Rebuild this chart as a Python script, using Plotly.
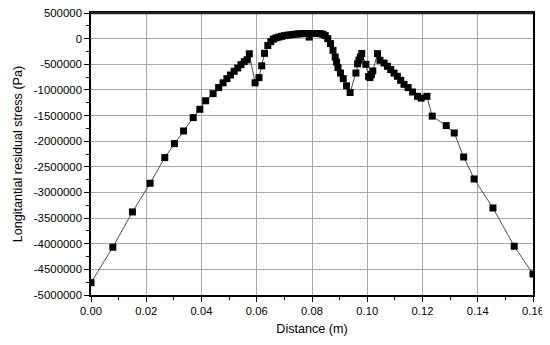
import plotly.graph_objects as go

distance_m = [
    0.0000, 0.0079, 0.0150, 0.0214, 0.0267, 0.0302, 0.0335, 0.0370, 0.0394, 0.0415,
    0.0442, 0.0462, 0.0478, 0.0492, 0.0505, 0.0518, 0.0531, 0.0543, 0.0555, 0.0565,
    0.0573, 0.0594, 0.0608, 0.0618, 0.0628, 0.0640, 0.0651,
    0.0660, 0.0670, 0.0680, 0.0690, 0.0700, 0.0710, 0.0720, 0.0730, 0.0740, 0.0750,
    0.0760, 0.0770, 0.0780, 0.0790, 0.0800, 0.0810, 0.0820, 0.0830, 0.0840, 0.0848,
    0.0857, 0.0867, 0.0876, 0.0884, 0.0889, 0.0894, 0.0903, 0.0913, 0.0925, 0.0938,
    0.0959, 0.0965, 0.0970, 0.0975, 0.0980,
    0.0995, 0.1005, 0.1010, 0.1015, 0.1020, 0.1037,
    0.1046, 0.1061, 0.1073, 0.1085, 0.1097, 0.1109, 0.1121, 0.1133, 0.1148, 0.1164,
    0.1182, 0.1195, 0.1216, 0.1235, 0.1286, 0.1315, 0.1349, 0.1387, 0.1455, 0.1532,
    0.1600,
]

stress_pa = [
    -4760000, -4068000, -3380000, -2821000, -2320000, -2047000, -1801000, -1540000, -1378000, -1212000,
    -1072000, -955000, -862000, -780000, -710000, -637000, -573000, -507000, -448000, -413000,
    -296000, -862000, -760000, -530000, -287000, -134000, -58000,
    -10000, 15000, 30000, 45000, 58000, 66000, 72000, 80000, 86000, 92000,
    97000, 98000, 100000, 31000, 100000, 100000, 98000, 97000, 85000, 60000,
    0, -97000, -228000, -359000, -456000, -565000, -671000, -780000, -920000, -1051000,
    -671000, -491000, -420000, -360000, -290000,
    -501000, -740000, -760000, -700000, -630000, -292000,
    -423000, -476000, -540000, -604000, -671000, -735000, -813000, -891000, -955000, -1041000,
    -1125000, -1160000, -1125000, -1511000, -1696000, -1840000, -2308000, -2737000, -3302000, -4049000,
    -4590000,
]

y_tick_vals = [500000, 0, -500000, -1000000, -1500000, -2000000, -2500000, -3000000,
               -3500000, -4000000, -4500000, -5000000]
y_tick_text = ["500000", "0", "-500000", "-1000000", "-1500000", "-2000000", "-2500000",
               "-3000000", "-3500000", "-4000000", "-4500000", "-5000000"]
x_tick_vals = [0.00, 0.02, 0.04, 0.06, 0.08, 0.10, 0.12, 0.14, 0.16]

fig = go.Figure()
fig.add_trace(go.Scatter(
    x=distance_m, y=stress_pa, mode="lines+markers",
    line=dict(color="#4a4a5a", width=1),
    marker=dict(symbol="square", size=7, color="black"),
    showlegend=False, cliponaxis=True,
))

font = "Liberation Sans, Arial, sans-serif"
# page body has an 8px default margin; figure sized so it ends at the window edge
fig.update_layout(
    width=542, height=337,
    margin=dict(l=83, r=17, t=5, b=50, autoexpand=False),
    paper_bgcolor="white", plot_bgcolor="white",
    font=dict(family=font, size=11.4, color="black"),
)
# top frame edge of the plot area
fig.add_shape(type="line", xref="paper", yref="paper", x0=0, x1=1, y0=1, y1=1,
              line=dict(color="#222222", width=2.5), layer="above")
fig.update_xaxes(
    range=[0, 0.16], tickvals=x_tick_vals, tickformat=".2f", automargin=False,
    ticklabeloverflow="allow",
    showgrid=True, gridcolor="#a8a8a8", gridwidth=1,
    showline=True, linecolor="black", linewidth=1.5, mirror=True,
    ticks="outside", ticklen=5, tickwidth=1, tickcolor="black",
    minor=dict(dtick=0.01, ticks="outside", ticklen=3, tickcolor="black", showgrid=False),
    zeroline=False, tickfont=dict(size=11.2),
    title=dict(text="Distance (m)", font=dict(size=12.6), standoff=8),
)
fig.update_yaxes(
    range=[-5000000, 500000], tickvals=y_tick_vals, ticktext=y_tick_text, automargin=False,
    ticklabeloverflow="allow",
    showgrid=True, gridcolor="#a8a8a8", gridwidth=1,
    showline=True, linecolor="black", linewidth=1.5, mirror=True,
    ticks="outside", ticklen=5, tickwidth=1, tickcolor="black",
    minor=dict(dtick=250000, ticks="outside", ticklen=3, tickcolor="black", showgrid=False),
    zeroline=False,
    title=dict(text="Longitantial residual stress (Pa)", font=dict(size=12.6), standoff=8),
)

fig.write_html("out.html", config={"displayModeBar": False})
